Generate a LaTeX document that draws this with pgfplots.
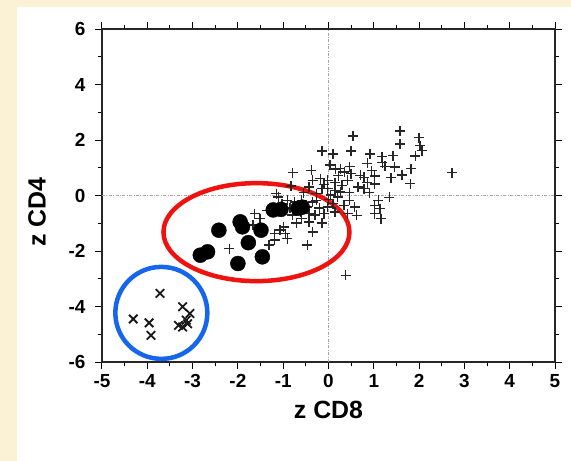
\documentclass[border=0pt]{standalone}
\usepackage{fontspec}
\setmainfont{Liberation Sans}
\usepackage{pgfplots}
\pgfplotsset{compat=1.18}
\definecolor{cream}{HTML}{FBF1D5}
\definecolor{ringred}{HTML}{F0120E}
\definecolor{ringblue}{HTML}{1565EE}

\pgfplotstableread{
x y
1.58 2.33
2.00 2.09
0.54 2.15
-0.14 1.61
0.10 1.49
0.50 1.61
1.58 1.85
2.02 1.80
2.06 1.62
1.92 1.42
0.92 1.49
1.18 1.40
1.42 1.44
0.86 1.16
1.19 1.18
1.46 1.03
1.82 0.97
2.73 0.82
-0.79 0.82
-0.38 0.91
0.03 1.10
0.26 0.97
0.47 1.04
0.50 0.79
0.70 0.73
0.78 0.65
1.02 0.70
1.38 0.64
1.62 0.74
1.81 0.43
0.86 0.46
1.02 0.41
0.78 0.25
-0.35 0.55
-0.18 0.61
-0.02 0.55
0.14 0.46
0.30 0.37
0.42 0.55
-0.43 0.31
-0.14 0.25
0.14 0.19
0.26 0.13
0.46 0.10
-0.83 0.34
-0.27 0.07
1.34 -0.07
1.10 -0.17
1.02 -0.35
1.14 -0.47
1.02 -0.65
1.16 -0.83
0.46 -0.17
0.34 -0.35
0.58 -0.41
0.42 -0.65
0.62 -0.71
0.10 -0.29
-0.02 -0.41
-0.10 -0.65
0.14 -0.59
-0.35 -0.23
-0.47 -0.41
-0.59 -0.17
-0.75 -0.23
-0.91 -0.17
-1.11 -0.05
-1.03 -0.29
-1.15 0.07
-0.43 -0.65
-0.59 -0.83
-0.43 -0.95
-0.71 -0.99
-0.14 -0.99
-0.35 -1.31
-0.47 -1.79
-0.99 -1.13
-1.07 -1.25
-0.95 -1.37
-0.91 -1.55
-1.19 -1.37
-1.31 -1.79
-1.19 -1.61
-1.63 -0.65
-1.51 -0.83
-1.67 -1.07
-2.19 -1.91
0.38 -2.88
-1.35 -0.53
-0.02 0.25
-0.27 -0.17
0.05 0.02
0.20 -0.05
-0.10 0.40
0.22 0.72
0.65 0.30
0.90 0.10
-0.55 0.10
-0.20 -0.45
0.00 -0.15
0.35 0.85
-0.85 -0.45
-0.30 -0.70
0.95 0.90
1.25 1.05
0.15 0.95
-0.62 -0.60
-0.80 -0.70
}\plusdata

\pgfplotstableread{
x y
-2.83 -2.15
-2.67 -2.03
-2.42 -1.25
-1.95 -0.95
-1.90 -1.13
-1.49 -1.25
-1.77 -1.70
-2.00 -2.45
-1.46 -2.21
-1.22 -0.52
-1.05 -0.50
-0.67 -0.46
-0.58 -0.42
}\dotdata

\pgfplotstableread{
x y
-3.72 -3.53
-4.31 -4.45
-3.96 -4.59
-3.92 -5.04
-3.22 -4.01
-3.06 -4.25
-3.31 -4.68
-3.14 -4.49
-3.11 -4.62
-3.22 -4.74
}\crossdata

\begin{document}
\begin{tikzpicture}
\fill[cream] (-102bp,-99bp) rectangle (469bp,362bp);
\fill[white] (-85bp,-99bp) rectangle (469bp,355bp);
\begin{axis}[
  at={(0,0)},anchor=south west,
  scale only axis,width=453bp,height=333bp,
  xmin=-5,xmax=5,ymin=-6,ymax=6,
  xtick={-5,...,5},ytick={-6,-4,...,6},
  minor x tick num=1,minor y tick num=1,
  tick align=outside,
  major tick length=7bp,minor tick length=4bp,
  every tick/.style={black,line width=1bp},
  axis line style={black!85,line width=1.3bp},
  /pgf/number format/assume math mode=true,
  ticklabel style={font=\fontsize{19}{21}\selectfont\bfseries},
  yticklabel style={xshift=-6bp},
  xticklabel style={yshift=-2bp},
  xlabel={z CD8},ylabel={z CD4},
  every axis x label/.style={at={(rel axis cs:0.5,0)},yshift=-48bp,anchor=center,
    font=\fontsize{25}{28}\selectfont\bfseries},
  every axis y label/.style={at={(rel axis cs:0,0.45)},xshift=-65bp,rotate=90,anchor=center,
    font=\fontsize{25}{28}\selectfont\bfseries},
  clip=false,
]
\draw[gray!70,line width=0.8bp,dash pattern=on 3bp off 1.5bp on 0.8bp off 1.5bp] (axis cs:0,-6) -- (axis cs:0,6);
\draw[gray!70,line width=0.8bp,dash pattern=on 3bp off 1.5bp on 0.8bp off 1.5bp] (axis cs:-5,0) -- (axis cs:5,0);
\addplot[only marks,mark=+,mark size=5bp,line width=1.4bp,black!85] table {\plusdata};
\addplot[only marks,mark=*,mark size=7.5bp,black] table {\dotdata};
\addplot[only marks,mark=x,mark size=6bp,line width=1.8bp,black!90] table {\crossdata};
\draw[ringred,line width=4.5bp] (axis cs:-1.59,-1.32) ellipse [x radius=93bp,y radius=49bp];
\draw[ringblue,line width=4.5bp] (axis cs:-3.69,-4.23) ellipse [x radius=46bp,y radius=46bp];
\end{axis}
\pgfresetboundingbox
\useasboundingbox (-102bp,-99bp) rectangle (469bp,362bp);
\end{tikzpicture}
\end{document}
